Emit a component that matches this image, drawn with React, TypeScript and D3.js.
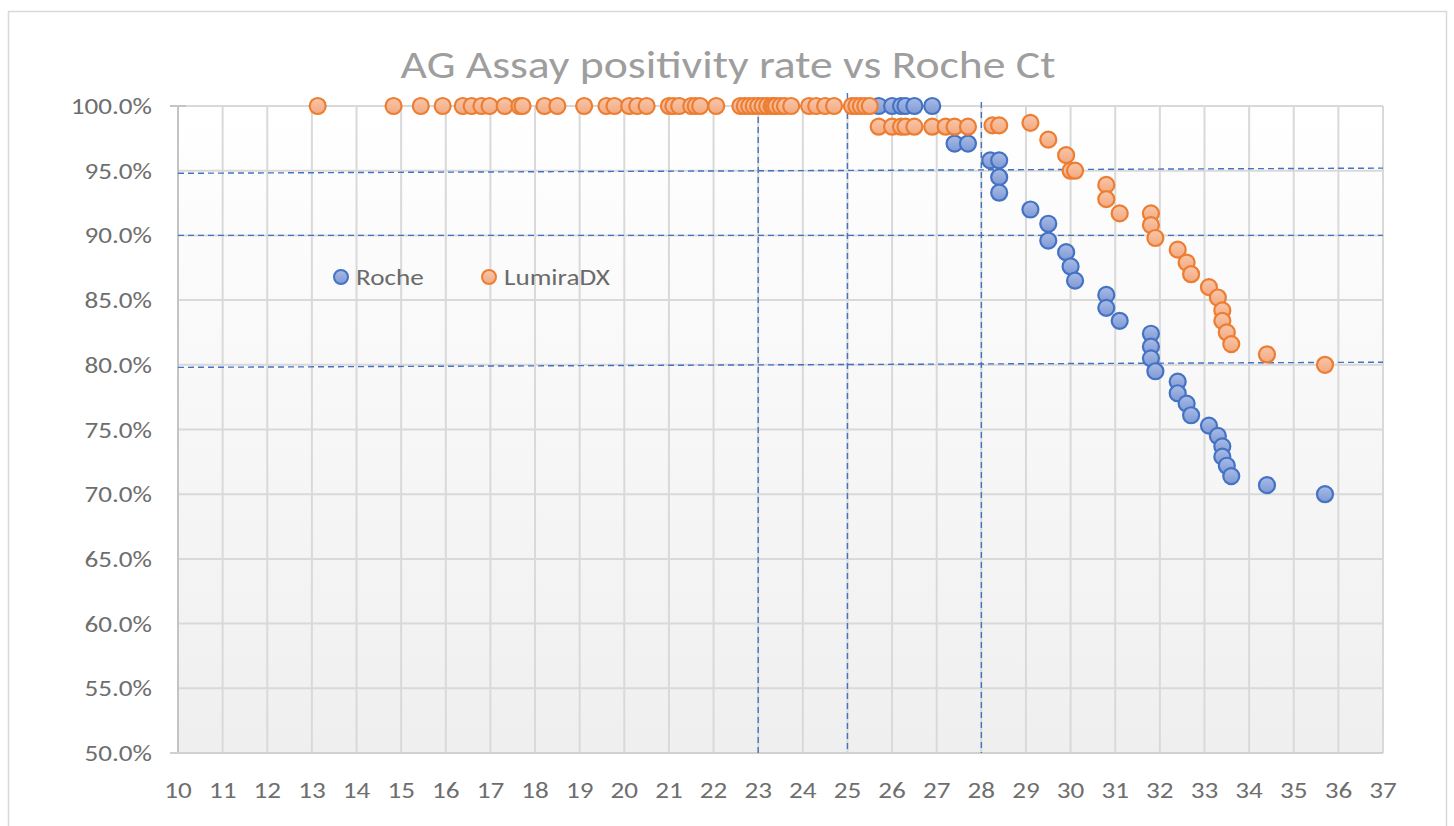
import { scaleLinear, range } from 'd3'

const title = 'AG Assay positivity rate vs Roche Ct'

const rocheCt = [
  25.7, 26.0, 26.2, 26.3, 26.5, 26.9, 27.4, 27.7, 28.2, 28.4, 28.4, 28.4, 29.1, 29.5, 29.5, 29.9, 30.0, 30.1,
  30.8, 30.8, 31.1, 31.8, 31.8, 31.8, 31.9, 32.4, 32.4, 32.6, 32.7, 33.1, 33.3, 33.4, 33.4, 33.5, 33.6, 34.4, 35.7,
]
const rocheRate = [
  100, 100, 100, 100, 100, 100, 97.1, 97.1, 95.8, 95.8, 94.5, 93.3, 92.0, 90.9, 89.6, 88.7, 87.6, 86.5,
  85.4, 84.4, 83.4, 82.4, 81.4, 80.5, 79.5, 78.7, 77.8, 77.0, 76.1, 75.3, 74.5, 73.7, 72.9, 72.2, 71.4, 70.7, 70.0,
]

const lumiraCt = [
  13.13, 14.83, 15.44, 15.93, 16.38, 16.58, 16.8, 16.98, 17.32, 17.65, 17.72, 18.21, 18.5, 19.1, 19.6, 19.78,
  20.11, 20.29, 20.5, 21.0, 21.1, 21.23, 21.5, 21.6, 21.7, 22.06, 22.6, 22.7, 22.8, 22.9, 23.0, 23.1, 23.2, 23.3,
  23.35, 23.4, 23.5, 23.6, 23.74, 24.14, 24.3, 24.5, 24.7, 25.1, 25.2, 25.3, 25.4, 25.5,
  25.7, 26.0, 26.2, 26.3, 26.5, 26.9, 27.2, 27.4, 27.7, 28.25, 28.4, 29.1, 29.5, 29.9, 30.0, 30.1,
  30.8, 30.8, 31.1, 31.8, 31.8, 31.9, 32.4, 32.6, 32.7, 33.1, 33.3, 33.4, 33.4, 33.5, 33.6, 34.4, 35.7,
]
const lumiraRate = [
  100, 100, 100, 100, 100, 100, 100, 100, 100, 100, 100, 100, 100, 100, 100, 100,
  100, 100, 100, 100, 100, 100, 100, 100, 100, 100, 100, 100, 100, 100, 100, 100, 100, 100,
  100, 100, 100, 100, 100, 100, 100, 100, 100, 100, 100, 100, 100, 100,
  98.4, 98.4, 98.4, 98.4, 98.4, 98.4, 98.4, 98.4, 98.4, 98.5, 98.5, 98.7, 97.4, 96.2, 95.0, 95.0,
  93.9, 92.8, 91.7, 91.7, 90.8, 89.8, 88.9, 87.9, 87.0, 86.0, 85.2, 84.2, 83.4, 82.5, 81.6, 80.8, 80.0,
]

// hand-drawn dashed reference lines (they are slightly tilted in the original)
const guideH = [
  { x1: 10, y1: 94.8, x2: 37, y2: 95.2 },
  { x1: 10, y1: 90.0, x2: 37, y2: 90.0 },
  { x1: 10, y1: 79.8, x2: 37, y2: 80.2 },
]
const guideV = [
  { x: 23, top: 100.7 },
  { x: 25, top: 101.0 },
  { x: 28, top: 100.3 },
]

const xTicks = range(10, 38)
const yTicks = range(50, 101, 5)

const width = 1454
const height = 826
const plot = { left: 178, right: 1383, top: 106, bottom: 753 }
const font = 'Carlito, Calibri, Lato, sans-serif'
// the original text is wider than Lato at the same height
const stretch = 1.18

type LabelProps = {
  x: number
  y: number
  anchor?: 'start' | 'middle' | 'end'
  size: number
  fill: string
  sx?: number
  children: React.ReactNode
}

function Label({ x, y, anchor = 'start', size, fill, sx = stretch, children }: LabelProps) {
  return (
    <g transform={`translate(${x}, ${y}) scale(${sx}, 1)`}>
      <text textAnchor={anchor} dy="0.35em" fontFamily={font} fontSize={size} fill={fill}>
        {children}
      </text>
    </g>
  )
}

export default function App() {
  const x = scaleLinear().domain([10, 37]).range([plot.left, plot.right])
  const y = scaleLinear().domain([50, 100]).range([plot.bottom, plot.top])

  const roche = rocheCt.map((ct, i) => ({ ct, rate: rocheRate[i] }))
  const lumira = lumiraCt.map((ct, i) => ({ ct, rate: lumiraRate[i] }))

  return (
    <div style={{ position: 'fixed', left: 0, top: 0, width, height, overflow: 'hidden', background: '#fff' }}>
      <svg width={width} height={height} style={{ display: 'block' }}>
        <defs>
          <linearGradient id="plotBg" x1="0" y1="0" x2="0" y2="1">
            <stop offset="0%" stopColor="#ffffff" />
            <stop offset="100%" stopColor="#efefef" />
          </linearGradient>
          <linearGradient id="blueFill" x1="0" y1="0" x2="0" y2="1">
            <stop offset="0%" stopColor="#a9bce6" />
            <stop offset="100%" stopColor="#7e99d4" />
          </linearGradient>
          <linearGradient id="orangeFill" x1="0" y1="0" x2="0" y2="1">
            <stop offset="0%" stopColor="#f9c6aa" />
            <stop offset="100%" stopColor="#f2a97f" />
          </linearGradient>
        </defs>

        <rect x={8.5} y={11.5} width={1438} height={830} fill="#fff" stroke="#d9d9d9" strokeWidth={1.5} />

        <rect
          x={plot.left}
          y={plot.top}
          width={plot.right - plot.left}
          height={plot.bottom - plot.top}
          fill="url(#plotBg)"
        />

        <g stroke="#d9d9d9" strokeWidth={2}>
          {xTicks.map((t) => (
            <line key={`vx${t}`} x1={x(t)} x2={x(t)} y1={plot.top} y2={plot.bottom} />
          ))}
          {yTicks.map((t) => (
            <line key={`hy${t}`} x1={plot.left} x2={plot.right} y1={y(t)} y2={y(t)} />
          ))}
        </g>
        <line x1={plot.left} x2={plot.left} y1={plot.top} y2={plot.bottom} stroke="#c4c4c4" strokeWidth={2} />
        <line x1={plot.left - 8} x2={plot.left + 8} y1={plot.top} y2={plot.top} stroke="#c4c4c4" strokeWidth={2} />
        <line x1={plot.left - 8} x2={plot.right} y1={plot.bottom} y2={plot.bottom} stroke="#d0d0d0" strokeWidth={2} />

        <Label x={728} y={64} anchor="middle" size={39} fill="#9e9e9e" sx={1.17}>
          {title}
        </Label>

        {yTicks.map((t) => (
          <Label key={`yl${t}`} x={152} y={y(t)} anchor="end" size={23} fill="#6e6e6e">
            {t.toFixed(1)}%
          </Label>
        ))}
        {xTicks.map((t) => (
          <Label key={`xl${t}`} x={x(t)} y={790} anchor="middle" size={23} fill="#6e6e6e">
            {t}
          </Label>
        ))}

        <g stroke="#4472c4" strokeWidth={1.4} strokeDasharray="6 4" fill="none">
          {guideH.map((g, i) => (
            <line key={`gh${i}`} x1={x(g.x1)} x2={x(g.x2)} y1={y(g.y1)} y2={y(g.y2)} />
          ))}
          {guideV.map((g) => (
            <line key={`gv${g.x}`} x1={x(g.x)} x2={x(g.x)} y1={y(g.top)} y2={plot.bottom} />
          ))}
        </g>

        <g fill="url(#blueFill)" stroke="#4472c4" strokeWidth={2.2}>
          {roche.map((d, i) => (
            <circle key={`r${i}`} cx={x(d.ct)} cy={y(d.rate)} r={8} />
          ))}
        </g>
        <g fill="url(#orangeFill)" stroke="#ed7d31" strokeWidth={2.2}>
          {lumira.map((d, i) => (
            <circle key={`l${i}`} cx={x(d.ct)} cy={y(d.rate)} r={8} />
          ))}
        </g>

        <circle cx={341} cy={277} r={7} fill="url(#blueFill)" stroke="#4472c4" strokeWidth={2} />
        <Label x={356} y={277} size={23} fill="#6a6a6a">
          Roche
        </Label>
        <circle cx={489} cy={277} r={7} fill="url(#orangeFill)" stroke="#ed7d31" strokeWidth={2} />
        <Label x={504} y={277} size={23} fill="#6a6a6a">
          LumiraDX
        </Label>
      </svg>
    </div>
  )
}
